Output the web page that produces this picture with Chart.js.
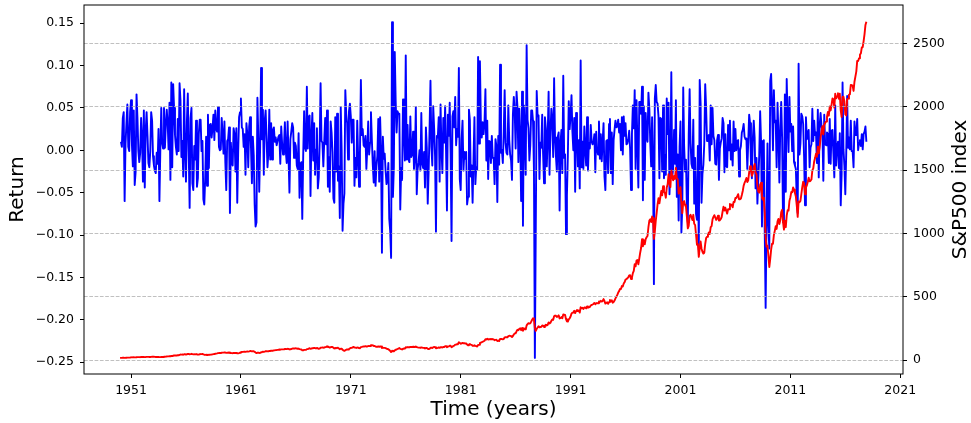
<!DOCTYPE html>
<html><head><meta charset="utf-8">
<script src="https://cdn.jsdelivr.net/npm/chart.js@4.4.1/dist/chart.umd.min.js"></script>
<style>html,body{margin:0;padding:0;background:#fff;}#wrap{width:971px;height:423px;}</style>
</head><body><div id="wrap"><canvas id="c" width="971" height="423"></canvas></div>
<script>
// First month of the price series (January 1950); one value per month
const firstYear = 1950;
// S&P500 monthly closing index, Jan 1950 .. Dec 2017
const sp500Close = [
17.05,17.22,17.29,17.96,18.78,17.69,17.84,18.42,19.45,19.53,19.51,20.41,
21.66,21.80,21.40,22.43,21.52,20.96,22.40,23.28,23.26,22.94,22.88,23.77,
24.14,23.26,24.37,23.32,23.86,24.96,25.40,25.03,24.54,24.52,25.66,26.57,
26.38,25.90,25.29,24.62,24.54,24.14,24.75,23.32,23.35,24.54,24.76,24.81,
26.08,26.15,26.94,28.26,29.19,29.21,30.88,29.83,32.31,31.68,34.24,35.98,
36.63,36.76,36.58,37.96,37.91,41.03,43.52,43.18,43.67,42.34,45.51,45.48,
43.82,45.34,48.48,48.38,45.20,46.97,49.39,47.51,45.35,45.58,45.08,46.67,
44.72,43.26,44.11,45.74,47.43,47.37,47.91,45.22,42.42,41.06,41.72,39.99,
41.70,40.84,42.10,43.44,44.09,45.24,47.19,47.75,50.06,51.33,52.48,55.21,
55.42,55.41,55.44,57.59,58.68,58.47,60.51,59.60,56.88,57.52,58.28,59.89,
55.61,56.12,55.34,54.37,55.83,56.92,55.51,56.96,53.52,53.39,55.54,58.11,
61.78,63.44,65.06,65.31,66.56,64.64,66.76,68.07,66.73,68.62,71.32,71.55,
68.84,69.96,69.55,65.24,59.63,54.75,58.23,59.12,56.27,56.52,62.26,63.10,
66.20,64.29,66.57,69.80,70.80,69.37,69.13,72.50,71.70,74.01,73.23,75.02,
77.04,77.80,78.98,79.46,80.37,81.69,83.18,81.83,84.18,84.86,84.42,84.75,
87.56,87.43,86.16,89.11,88.42,84.12,85.25,87.17,89.96,92.42,91.61,92.43,
92.88,91.22,89.23,91.06,86.13,84.74,83.60,77.10,76.56,80.20,80.45,80.33,
86.61,86.78,90.20,94.01,89.08,90.64,94.75,93.64,96.71,93.90,94.00,96.47,
92.24,89.36,90.20,97.59,98.68,99.58,97.74,98.86,102.67,103.41,108.37,103.86,
103.01,98.13,101.51,103.69,103.46,97.71,91.83,95.51,93.12,97.24,93.81,92.06,
85.02,89.50,89.63,81.52,76.55,72.72,78.05,81.52,84.21,83.25,87.20,92.15,
95.88,96.75,100.31,103.95,99.63,98.70,95.58,99.03,98.34,94.23,93.99,102.09,
103.94,106.57,107.20,107.67,109.53,107.14,107.39,111.09,110.55,111.58,116.67,118.05,
116.03,111.68,111.52,106.97,104.95,104.26,108.22,104.25,108.43,108.29,95.96,97.55,
96.57,96.22,93.98,90.31,87.28,86.00,79.31,72.15,63.54,73.90,69.97,68.56,
76.98,81.59,83.36,87.30,91.15,95.19,88.75,86.88,83.87,89.04,91.24,90.19,
100.86,99.71,102.77,101.64,100.18,104.28,103.44,102.91,105.24,102.90,102.10,107.46,
102.03,99.82,98.42,98.44,96.12,100.48,98.85,96.77,96.53,92.34,94.83,95.10,
89.25,87.04,89.21,96.83,97.24,95.53,100.68,103.29,102.54,93.15,94.70,96.11,
99.93,96.28,101.59,101.76,99.08,102.91,103.81,109.32,109.32,101.82,106.16,107.94,
114.16,113.66,102.09,106.29,111.24,114.24,121.67,122.38,125.46,127.47,140.52,135.76,
129.55,131.27,136.00,132.81,132.59,131.21,130.92,122.79,116.18,121.89,126.35,122.55,
120.40,113.11,111.96,116.44,111.88,109.61,107.09,119.51,120.42,133.71,138.54,140.64,
145.30,148.06,152.96,164.42,162.39,168.11,162.56,164.40,166.07,163.55,166.40,164.93,
163.41,157.06,159.18,160.05,150.55,153.18,150.66,166.68,166.10,166.09,163.58,167.24,
179.63,181.18,180.66,179.83,189.55,191.85,190.92,188.63,182.08,189.82,202.17,211.28,
211.78,226.92,238.90,235.52,247.35,250.84,236.12,252.93,231.32,243.98,249.22,242.17,
274.08,284.20,291.70,288.36,290.10,304.00,318.66,329.80,321.83,251.79,230.30,247.08,
257.07,267.82,258.89,261.33,262.16,273.50,272.02,261.52,271.91,278.97,273.70,277.72,
297.47,288.86,294.87,309.64,320.52,317.98,346.08,351.45,349.15,340.36,345.99,353.40,
329.08,331.89,339.94,330.80,361.23,358.02,356.15,322.56,306.05,304.00,322.22,330.22,
343.93,367.07,375.22,375.35,389.83,371.16,387.81,395.43,387.86,392.46,375.22,417.09,
408.79,412.70,403.69,414.95,415.35,408.14,424.21,414.03,417.80,418.68,431.35,435.71,
438.78,443.38,451.67,440.19,450.19,450.53,448.13,463.56,458.93,467.83,461.79,466.45,
481.61,467.14,445.77,450.91,456.50,444.27,458.26,475.49,462.69,472.35,453.69,459.27,
470.42,487.39,500.71,514.71,533.40,544.75,562.06,561.88,584.41,581.50,605.37,615.93,
636.02,640.43,645.50,654.17,669.12,670.63,639.95,651.99,687.31,705.27,757.02,740.74,
786.16,790.82,757.12,801.34,848.28,885.14,954.29,899.47,947.28,914.62,955.40,970.43,
980.28,1049.34,1101.75,1111.75,1090.82,1133.84,1120.67,957.28,1017.01,1098.67,1163.63,1229.23,
1279.64,1238.33,1286.37,1335.18,1301.84,1372.71,1328.72,1320.41,1282.71,1362.93,1388.91,1469.25,
1394.46,1366.42,1498.58,1452.43,1420.60,1454.60,1430.83,1517.68,1436.51,1429.40,1314.95,1320.28,
1366.01,1239.94,1160.33,1249.46,1255.82,1224.42,1211.23,1133.58,1040.94,1059.78,1139.45,1148.08,
1130.20,1106.73,1147.39,1076.92,1067.14,989.82,911.62,916.07,815.28,885.76,936.31,879.82,
855.70,841.15,848.18,916.92,963.59,974.50,990.31,1008.01,995.97,1050.71,1058.20,1111.92,
1131.13,1144.94,1126.21,1107.30,1120.68,1140.84,1101.72,1104.24,1114.58,1130.20,1173.82,1211.92,
1181.27,1203.60,1180.59,1156.85,1191.50,1191.33,1234.18,1220.33,1228.81,1207.01,1249.48,1248.29,
1280.08,1280.66,1294.83,1310.61,1270.09,1270.20,1276.66,1303.82,1335.85,1377.94,1400.63,1418.30,
1438.24,1406.82,1420.86,1482.37,1530.62,1503.35,1455.27,1473.99,1526.75,1549.38,1481.14,1468.36,
1378.55,1330.63,1322.70,1385.59,1400.38,1280.00,1267.38,1282.83,1166.36,968.75,896.24,903.25,
825.88,735.09,797.87,872.81,919.14,919.32,987.48,1020.62,1057.08,1036.19,1095.63,1115.10,
1073.87,1104.49,1169.43,1186.69,1089.41,1030.71,1101.60,1049.33,1141.20,1183.26,1180.55,1257.64,
1286.12,1327.22,1325.83,1363.61,1345.20,1320.64,1292.28,1218.89,1131.42,1253.30,1246.96,1257.60,
1312.41,1365.68,1408.47,1397.91,1310.33,1362.16,1379.32,1406.58,1440.67,1412.16,1416.18,1426.19,
1498.11,1514.68,1569.19,1597.57,1630.74,1606.28,1685.73,1632.97,1681.55,1756.54,1805.81,1848.36,
1782.59,1859.45,1872.34,1883.95,1923.57,1960.23,1930.67,2003.37,1972.29,2018.05,2067.56,2058.90,
1994.99,2104.50,2067.89,2085.51,2107.39,2063.11,2103.84,1972.18,1920.03,2079.36,2080.41,2043.94,
1940.24,1932.23,2059.74,2065.30,2096.95,2098.86,2173.60,2170.95,2168.27,2126.15,2198.81,2238.83,
2278.87,2363.64,2362.72,2384.20,2411.80,2423.41,2470.30,2471.65,2519.36,2575.26,2647.58,2673.61
];
// Monthly log return, Feb 1950 .. Dec 2017
const monthlyReturn = [
0.010,0.004,0.038,0.045,-0.060,0.008,0.032,0.054,0.004,-0.001,0.045,
0.059,0.006,-0.019,0.047,-0.041,-0.026,0.066,0.039,-0.001,-0.014,-0.003,0.038,
0.015,-0.037,0.047,-0.044,0.023,0.045,0.017,-0.015,-0.020,-0.001,0.045,0.035,
-0.007,-0.018,-0.024,-0.027,-0.003,-0.016,0.025,-0.060,0.001,0.050,0.009,0.002,
0.050,0.003,0.030,0.048,0.032,0.001,0.056,-0.035,0.080,-0.020,0.078,0.050,
0.018,0.004,-0.005,0.037,-0.001,0.079,0.059,-0.008,0.011,-0.031,0.072,-0.001,
-0.037,0.034,0.067,-0.002,-0.068,0.038,0.050,-0.039,-0.047,0.005,-0.011,0.035,
-0.043,-0.033,0.019,0.036,0.036,-0.001,0.011,-0.058,-0.064,-0.033,0.016,-0.042,
0.042,-0.021,0.030,0.031,0.015,0.026,0.042,0.012,0.047,0.025,0.022,0.051,
0.004,0.000,0.001,0.038,0.019,-0.004,0.034,-0.015,-0.047,0.011,0.013,0.027,
-0.074,0.009,-0.014,-0.018,0.026,0.019,-0.025,0.026,-0.062,-0.002,0.039,0.045,
0.061,0.027,0.025,0.004,0.019,-0.029,0.032,0.019,-0.020,0.028,0.039,0.003,
-0.039,0.016,-0.006,-0.064,-0.090,-0.085,0.062,0.015,-0.049,0.004,0.097,0.013,
0.048,-0.029,0.035,0.047,0.014,-0.020,-0.003,0.048,-0.011,0.032,-0.011,0.024,
0.027,0.010,0.015,0.006,0.011,0.016,0.018,-0.016,0.028,0.008,-0.005,0.004,
0.033,-0.001,-0.015,0.034,-0.008,-0.050,0.013,0.022,0.032,0.027,-0.009,0.009,
0.005,-0.018,-0.022,0.020,-0.056,-0.016,-0.014,-0.081,-0.007,0.046,0.003,-0.001,
0.075,0.002,0.039,0.041,-0.054,0.017,0.044,-0.012,0.032,-0.029,0.001,0.026,
-0.045,-0.032,0.009,0.079,0.011,0.009,-0.019,0.011,0.038,0.007,0.047,-0.043,
-0.008,-0.049,0.034,0.021,-0.002,-0.057,-0.062,0.039,-0.025,0.043,-0.036,-0.019,
-0.080,0.051,0.001,-0.095,-0.063,-0.051,0.071,0.043,0.032,-0.011,0.046,0.055,
0.040,0.009,0.036,0.036,-0.042,-0.009,-0.032,0.035,-0.007,-0.043,-0.003,0.083,
0.018,0.025,0.006,0.004,0.017,-0.022,0.002,0.034,-0.005,0.009,0.045,0.012,
-0.017,-0.038,-0.001,-0.042,-0.019,-0.007,0.037,-0.037,0.039,-0.001,-0.121,0.016,
-0.010,-0.004,-0.024,-0.040,-0.034,-0.015,-0.081,-0.095,-0.127,0.151,-0.055,-0.020,
0.116,0.058,0.021,0.046,0.043,0.043,-0.070,-0.021,-0.035,0.060,0.024,-0.012,
0.112,-0.011,0.030,-0.011,-0.014,0.040,-0.008,-0.005,0.022,-0.022,-0.008,0.051,
-0.052,-0.022,-0.014,0.000,-0.024,0.044,-0.016,-0.021,-0.002,-0.044,0.027,0.003,
-0.063,-0.025,0.025,0.082,0.004,-0.018,0.052,0.026,-0.007,-0.096,0.017,0.015,
0.039,-0.037,0.054,0.002,-0.027,0.038,0.009,0.052,0.000,-0.071,0.042,0.017,
0.056,-0.004,-0.107,0.040,0.046,0.027,0.063,0.006,0.025,0.016,0.097,-0.034,
-0.047,0.013,0.035,-0.024,-0.002,-0.010,-0.002,-0.064,-0.055,0.048,0.036,-0.031,
-0.018,-0.062,-0.010,0.039,-0.040,-0.020,-0.023,0.110,0.008,0.105,0.035,0.015,
0.033,0.019,0.033,0.072,-0.012,0.035,-0.034,0.011,0.010,-0.015,0.017,-0.009,
-0.009,-0.040,0.013,0.005,-0.061,0.017,-0.017,0.101,-0.003,0.000,-0.015,0.022,
0.071,0.009,-0.003,-0.005,0.053,0.012,-0.005,-0.012,-0.035,0.042,0.063,0.044,
0.002,0.069,0.051,-0.014,0.049,0.014,-0.060,0.069,-0.089,0.053,0.021,-0.029,
0.124,0.036,0.026,-0.012,0.006,0.047,0.047,0.034,-0.024,-0.245,-0.089,0.070,
0.040,0.041,-0.034,0.009,0.003,0.042,-0.005,-0.039,0.039,0.026,-0.019,0.015,
0.069,-0.029,0.021,0.049,0.035,-0.008,0.085,0.015,-0.007,-0.025,0.016,0.021,
-0.071,0.009,0.024,-0.027,0.088,-0.009,-0.005,-0.099,-0.053,-0.007,0.058,0.025,
0.041,0.065,0.022,0.000,0.038,-0.049,0.044,0.019,-0.019,0.012,-0.045,0.106,
-0.020,0.010,-0.022,0.028,0.001,-0.018,0.039,-0.024,0.009,0.002,0.030,0.010,
0.007,0.010,0.019,-0.026,0.022,0.001,-0.005,0.034,-0.010,0.019,-0.013,0.010,
0.032,-0.031,-0.047,0.011,0.012,-0.027,0.031,0.037,-0.027,0.021,-0.040,0.012,
0.024,0.035,0.027,0.028,0.036,0.021,0.031,0.000,0.039,-0.005,0.040,0.017,
0.032,0.007,0.008,0.013,0.023,0.002,-0.047,0.019,0.053,0.026,0.071,-0.022,
0.059,0.006,-0.044,0.057,0.057,0.043,0.075,-0.059,0.052,-0.035,0.044,0.016,
0.010,0.068,0.049,0.009,-0.019,0.039,-0.012,-0.158,0.061,0.077,0.057,0.055,
0.040,-0.033,0.038,0.037,-0.025,0.053,-0.033,-0.006,-0.029,0.061,0.019,0.056,
-0.052,-0.020,0.092,-0.031,-0.022,0.024,-0.016,0.059,-0.055,-0.005,-0.083,0.004,
0.034,-0.097,-0.066,0.074,0.005,-0.025,-0.011,-0.066,-0.085,0.018,0.072,0.008,
-0.016,-0.021,0.036,-0.063,-0.009,-0.075,-0.082,0.005,-0.117,0.083,0.055,-0.062,
-0.028,-0.017,0.008,0.078,0.050,0.011,0.016,0.018,-0.012,0.053,0.007,0.050,
0.017,0.012,-0.016,-0.017,0.012,0.018,-0.035,0.002,0.009,0.014,0.038,0.032,
-0.026,0.019,-0.019,-0.020,0.030,0.000,0.035,-0.011,0.007,-0.018,0.034,-0.001,
0.025,0.000,0.011,0.012,-0.031,0.000,0.005,0.021,0.024,0.031,0.016,0.013,
0.014,-0.022,0.010,0.042,0.032,-0.018,-0.033,0.013,0.035,0.015,-0.045,-0.009,
-0.063,-0.035,-0.006,0.046,0.011,-0.090,-0.010,0.012,-0.095,-0.186,-0.078,0.008,
-0.089,-0.116,0.082,0.090,0.052,0.000,0.071,0.033,0.035,-0.020,0.056,0.018,
-0.038,0.028,0.057,0.015,-0.085,-0.055,0.066,-0.049,0.084,0.036,-0.002,0.063,
0.022,0.031,-0.001,0.028,-0.014,-0.018,-0.022,-0.058,-0.074,0.102,-0.005,0.008,
0.043,0.040,0.031,-0.008,-0.065,0.039,0.013,0.020,0.024,-0.020,0.003,0.007,
0.049,0.011,0.035,0.018,0.021,-0.015,0.048,-0.032,0.029,0.044,0.028,0.023,
-0.036,0.042,0.007,0.006,0.021,0.019,-0.015,0.037,-0.016,0.023,0.024,-0.004,
-0.032,0.053,-0.018,0.008,0.010,-0.021,0.020,-0.065,-0.027,0.080,0.001,-0.018,
-0.052,-0.004,0.064,0.003,0.015,0.001,0.035,-0.001,-0.001,-0.020,0.034,0.018,
0.018,0.037,0.000,0.009,0.012,0.005,0.019,0.001,0.019,0.022,0.028,0.010
];
const yearTicks = [1951, 1961, 1971, 1981, 1991, 2001, 2011, 2021];
const returnTicks = [-0.25, -0.20, -0.15, -0.10, -0.05, 0.00, 0.05, 0.10, 0.15];
const indexTicks = [0, 500, 1000, 1500, 2000, 2500];

const FONT = 'DejaVu Sans';
Chart.defaults.font.family = FONT;
Chart.defaults.font.size = 12.5;
Chart.defaults.color = '#000';

// month index -> decimal year (category position on the time axis)
const monthPos = i => firstYear + i / 12;

const frame = {
  id: 'frame',
  afterDraw(chart) {
    const a = chart.chartArea, ctx = chart.ctx;
    ctx.save();
    ctx.strokeStyle = '#000';
    ctx.lineWidth = 1;
    ctx.strokeRect(a.left, a.top, a.right - a.left, a.bottom - a.top);
    // right axis title, reading bottom-to-top
    ctx.fillStyle = '#000';
    ctx.font = '20px "' + FONT + '"';
    ctx.textAlign = 'center';
    ctx.textBaseline = 'middle';
    ctx.translate(961, (a.top + a.bottom) / 2);
    ctx.rotate(-Math.PI / 2);
    ctx.fillText('S&P500 index', 0, 0);
    ctx.restore();
  }
};

const setTicks = arr => scale => { scale.ticks = arr.map(v => ({ value: v })); };
const fixV = w => s => { s.width = w; s.paddingTop = 0; s.paddingBottom = 0; };
const fixH = h => s => { s.height = h; s.paddingLeft = 0; s.paddingRight = 0; };

new Chart(document.getElementById('c'), {
  type: 'line',
  data: {
    datasets: [
      {
        label: 'Return',
        data: monthlyReturn.map((v, i) => ({ x: monthPos(i + 1), y: v })),
        yAxisID: 'y',
        borderColor: '#0000ff',
        borderWidth: 1.9,
        pointRadius: 0,
        tension: 0,
        fill: false,
        borderJoinStyle: 'round',
        order: 2
      },
      {
        label: 'S&P500 index',
        data: sp500Close.map((v, i) => ({ x: monthPos(i), y: v })),
        yAxisID: 'y2',
        borderColor: '#ff0000',
        borderWidth: 1.9,
        pointRadius: 0,
        tension: 0,
        fill: false,
        borderJoinStyle: 'round',
        order: 1
      }
    ]
  },
  options: {
    responsive: false,
    animation: false,
    devicePixelRatio: 1,
    layout: { padding: { top: 5, left: 0, right: 0, bottom: 0 } },
    plugins: { legend: { display: false }, tooltip: { enabled: false } },
    scales: {
      x: {
        type: 'linear',
        position: 'bottom',
        min: 1946.72,
        max: 2021.25,
        afterBuildTicks: setTicks(yearTicks),
        afterFit: fixH(49),
        grid: { drawOnChartArea: false, drawTicks: true, tickLength: 4, tickColor: '#000', tickWidth: 1 },
        border: { display: false },
        ticks: { padding: 5, maxRotation: 0, minRotation: 0, autoSkip: false, callback: v => String(v) },
        title: { display: true, text: 'Time (years)', font: { size: 20 }, padding: { top: 0, bottom: 1 } }
      },
      y: {
        type: 'linear',
        position: 'left',
        min: -0.2640,
        max: 0.1714,
        afterBuildTicks: setTicks(returnTicks),
        afterFit: fixV(84),
        grid: { drawOnChartArea: false, drawTicks: true, tickLength: 4, tickColor: '#000', tickWidth: 1 },
        border: { display: false },
        ticks: { padding: 6, callback: v => (Math.abs(v) < 1e-9 ? '0.00' : v.toFixed(2)).replace('-', '\u2212') },
        title: { display: true, text: 'Return', font: { size: 20 }, padding: { top: 5.5, bottom: 0 } }
      },
      y2: {
        type: 'linear',
        position: 'right',
        min: -110,
        max: 2805,
        afterBuildTicks: setTicks(indexTicks),
        afterFit: fixV(68),
        grid: { drawOnChartArea: true, color: '#b0b0b0', lineWidth: 0.8, drawTicks: true, tickLength: 4, tickColor: '#000', tickWidth: 1, z: 1 },
        border: { display: false, dash: [3.7, 1.6] },
        ticks: { padding: 6, callback: v => String(v) },
        title: { display: false }
      }
    }
  },
  plugins: [frame]
});
</script>
</body></html>
